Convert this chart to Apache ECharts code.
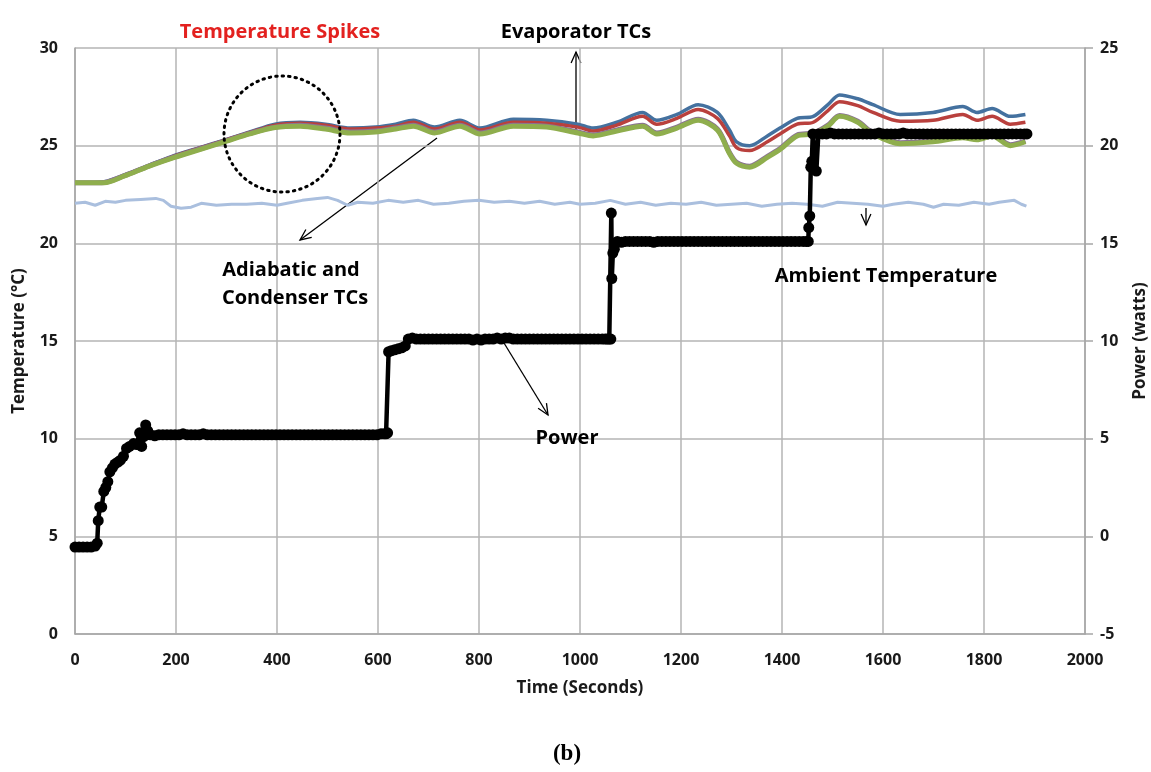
<!DOCTYPE html>
<html>
<head>
<meta charset="utf-8">
<script src="https://cdn.jsdelivr.net/npm/echarts@6/dist/echarts.min.js"></script>
<style>
html,body{margin:0;padding:0;background:#fff;overflow:hidden;}
#chart{width:1151px;height:772px;}
</style>
</head>
<body>
<div id="chart"></div>
<script>
// ---------- DATA ----------
var xTicks = [0,200,400,600,800,1000,1200,1400,1600,1800,2000];

// Evaporator TC (blue)
var evapBlueT = [0,28,58,98,147,197,247,297,346,396,446,496,545,595,635,670,712,762,802,868,934,996,1026,1073,1124,1152,1192,1234,1272,1296,1310,1336,1371,1396,1430,1462,1491,1514,1550,1580,1634,1699,1758,1786,1816,1852,1882];
var evapBlueV = [23.1,23.1,23.15,23.5,24.0,24.5,24.9,25.3,25.7,26.1,26.2,26.1,25.9,25.95,26.1,26.3,25.95,26.3,25.9,26.35,26.3,26.1,25.9,26.2,26.7,26.3,26.6,27.1,26.7,25.8,25.2,25.0,25.5,25.9,26.4,26.5,27.1,27.6,27.4,27.1,26.6,26.7,27.0,26.7,26.9,26.5,26.6];
// Evaporator TC (red)
var evapRedV = [23.1,23.1,23.13,23.48,23.98,24.48,24.88,25.28,25.68,26.05,26.15,26.05,25.85,25.9,26.0,26.2,25.85,26.2,25.8,26.2,26.15,25.95,25.75,26.05,26.5,26.1,26.4,26.85,26.4,25.5,24.9,24.75,25.2,25.6,26.1,26.2,26.8,27.25,27.05,26.7,26.25,26.3,26.6,26.3,26.5,26.1,26.2];
// Adiabatic / condenser TCs (purple and green)
var adiaPurpleV = [23.1,23.1,23.12,23.47,23.97,24.42,24.83,25.23,25.63,25.95,26.05,25.9,25.7,25.75,25.9,26.05,25.7,26.05,25.65,26.05,26.0,25.7,25.55,25.8,26.05,25.65,25.95,26.35,25.85,24.65,24.15,23.95,24.45,24.85,25.55,25.65,26.05,26.55,26.25,25.65,25.15,25.25,25.45,25.35,25.55,25.05,25.25];
var condGreenV = [23.1,23.1,23.1,23.45,23.95,24.4,24.8,25.2,25.6,25.93,26.0,25.85,25.65,25.7,25.85,26.0,25.65,26.0,25.6,26.0,25.95,25.65,25.5,25.75,26.0,25.6,25.9,26.3,25.8,24.6,24.1,23.9,24.4,24.8,25.5,25.6,26.0,26.5,26.2,25.6,25.1,25.2,25.4,25.3,25.5,25.0,25.2];

// Ambient temperature
var ambT = [0,20,40,60,80,100,130,160,175,190,210,230,250,280,310,340,370,400,420,450,480,500,520,540,560,590,620,650,680,710,740,770,800,830,860,890,920,950,980,1000,1030,1060,1090,1120,1150,1180,1210,1240,1270,1300,1330,1360,1390,1420,1450,1480,1510,1540,1570,1600,1620,1650,1680,1700,1720,1750,1780,1810,1830,1860,1874,1884];
var ambV = [22.05,22.1,21.95,22.15,22.1,22.2,22.25,22.3,22.2,21.9,21.8,21.85,22.05,21.95,22.0,22.0,22.05,21.95,22.05,22.2,22.3,22.35,22.2,21.95,22.1,22.05,22.2,22.1,22.2,22.0,22.05,22.15,22.2,22.1,22.15,22.05,22.15,22.0,22.1,22.0,22.05,22.2,22.0,22.1,21.95,22.05,22.0,22.1,21.95,22.0,22.05,21.9,22.0,22.05,22.0,21.9,22.1,22.05,22.0,21.9,22.0,22.1,22.0,21.85,22.0,21.95,22.1,22.0,22.1,22.2,22.0,21.9];

// Power (watts), [time s, watts] — start-up ramp and four plateaus
var powerRamp = [[0,-0.55],[8,-0.55],[16,-0.55],[24,-0.55],[32,-0.55],[40,-0.5],[44,-0.35],[46,0.8],[49,1.5],[53,1.5],[57,2.3],[61,2.5],[65,2.8],[69,3.3],[74,3.5],[79,3.7],[85,3.8],[90,3.9],[96,4.1],[102,4.5],[108,4.6],[116,4.75],[122,4.7],[128,5.3],[132,4.6],[136,5.1],[140,5.7],[144,5.4]];
var powerStep5 = [[149,5.2],[158,5.15],[166,5.2],[174,5.2],[182,5.2],[190,5.2],[198,5.2],[206,5.2],[214,5.25],[222,5.2],[230,5.2],[238,5.2],[246,5.2],[254,5.25],[262,5.2],[270,5.2],[278,5.2],[286,5.2],[294,5.2],[302,5.2],[310,5.2],[318,5.2],[326,5.2],[334,5.2],[342,5.2],[350,5.2],[358,5.2],[366,5.2],[374,5.2],[382,5.2],[390,5.2],[398,5.2],[406,5.2],[414,5.2],[422,5.2],[430,5.2],[438,5.2],[446,5.2],[454,5.2],[462,5.2],[470,5.2],[478,5.2],[486,5.2],[494,5.2],[502,5.2],[510,5.2],[518,5.2],[526,5.2],[534,5.2],[542,5.2],[550,5.2],[558,5.2],[566,5.2],[574,5.2],[582,5.2],[590,5.2],[598,5.2],[606,5.25],[612,5.25],[616,5.25],[619,5.3]];
var powerStep10 = [[621,9.45],[626,9.5],[633,9.55],[640,9.6],[647,9.65],[654,9.75],[660,10.1],[668,10.15],[676,10.1],[684,10.1],[692,10.1],[700,10.1],[708,10.1],[716,10.1],[724,10.1],[732,10.1],[740,10.1],[748,10.1],[756,10.1],[764,10.1],[772,10.1],[780,10.1],[788,10.05],[796,10.1],[804,10.05],[812,10.1],[820,10.1],[828,10.1],[836,10.15],[844,10.1],[852,10.15],[860,10.15],[868,10.1],[876,10.1],[884,10.1],[892,10.1],[900,10.1],[908,10.1],[916,10.1],[924,10.1],[932,10.1],[940,10.1],[948,10.1],[956,10.1],[964,10.1],[972,10.1],[980,10.1],[988,10.1],[996,10.1],[1004,10.1],[1012,10.1],[1020,10.1],[1028,10.1],[1036,10.1],[1044,10.1],[1050,10.1],[1054,10.1],[1058,10.1],[1061,10.1]];
var powerStep15 = [[1062,16.55],[1063,13.2],[1065,14.5],[1068,14.7],[1074,15.1],[1082,15.05],[1090,15.1],[1098,15.1],[1106,15.1],[1114,15.1],[1122,15.1],[1130,15.1],[1138,15.1],[1146,15.05],[1154,15.1],[1162,15.1],[1170,15.1],[1178,15.1],[1186,15.1],[1194,15.1],[1202,15.1],[1210,15.1],[1218,15.1],[1226,15.1],[1234,15.1],[1242,15.1],[1250,15.1],[1258,15.1],[1266,15.1],[1274,15.1],[1282,15.1],[1290,15.1],[1298,15.1],[1306,15.1],[1314,15.1],[1322,15.1],[1330,15.1],[1338,15.1],[1346,15.1],[1354,15.1],[1362,15.1],[1370,15.1],[1378,15.1],[1386,15.1],[1394,15.1],[1402,15.1],[1410,15.1],[1418,15.1],[1426,15.1],[1434,15.1],[1442,15.1],[1448,15.1],[1452,15.1]];
var powerStep20 = [[1453,15.8],[1455,16.4],[1457,18.9],[1459,19.2],[1461,20.6],[1468,18.7],[1472,20.6],[1480,20.6],[1488,20.6],[1496,20.65],[1504,20.6],[1512,20.6],[1520,20.6],[1528,20.6],[1536,20.6],[1544,20.6],[1552,20.6],[1560,20.6],[1568,20.6],[1576,20.6],[1584,20.6],[1592,20.65],[1600,20.6],[1608,20.6],[1616,20.6],[1624,20.6],[1632,20.6],[1640,20.65],[1648,20.6],[1656,20.6],[1664,20.6],[1672,20.6],[1680,20.6],[1688,20.6],[1696,20.6],[1704,20.6],[1712,20.6],[1720,20.6],[1728,20.6],[1736,20.6],[1744,20.6],[1752,20.6],[1760,20.6],[1768,20.6],[1776,20.6],[1784,20.6],[1792,20.6],[1800,20.6],[1808,20.6],[1816,20.6],[1824,20.6],[1832,20.6],[1840,20.6],[1848,20.6],[1856,20.6],[1864,20.6],[1872,20.6],[1880,20.6],[1885,20.6]];

function pairs(t, v){ var out=[]; for (var i=0;i<t.length;i++) out.push([t[i], v[i]]); return out; }
var powerData = powerRamp.concat(powerStep5, powerStep10, powerStep15, powerStep20);

// ---------- CHART ----------
var FONT = '"Open Sans"';
var chart = echarts.init(document.getElementById('chart'), null, {renderer:'canvas', width:1151, height:772});
var GRID_L = 75, GRID_R = 1085, GRID_T = 48, GRID_B = 634;

function arrow(x1,y1,x2,y2){
  var ang = Math.atan2(y2-y1, x2-x1), L = 12, a = 0.42;
  var p1 = [x2 - L*Math.cos(ang - a), y2 - L*Math.sin(ang - a)];
  var p2 = [x2 - L*Math.cos(ang + a), y2 - L*Math.sin(ang + a)];
  return {type:'group', silent:true, children:[
    {type:'line', shape:{x1:x1,y1:y1,x2:x2,y2:y2}, style:{stroke:'#000', lineWidth:1.3}},
    {type:'polyline', shape:{points:[p1,[x2,y2],p2]}, style:{stroke:'#000', lineWidth:1.3, fill:null}}
  ]};
}
function txt(x,y,s,opt){
  opt = opt || {};
  return {type:'text', x:x, y:y, silent:true, z:20, style:{text:s, fill:opt.color||'#000', font:(opt.font||('bold 20px '+FONT)), textAlign:opt.align||'center', textVerticalAlign:'middle'}};
}
var lbl = {fontFamily:'Open Sans', fontWeight:'bold', fontSize:16, color:'#1a1a1a'};

var option = {
  backgroundColor:'#fff',
  animation:false,
  grid:{left:GRID_L, width:GRID_R-GRID_L, top:GRID_T, height:GRID_B-GRID_T, containLabel:false, outerBoundsMode:'none'},
  xAxis:{
    type:'value', min:0, max:2000, interval:200,
    name:'Time (Seconds)', nameLocation:'middle', nameGap:46,
    nameTextStyle:{fontFamily:'Open Sans', fontWeight:'bold', fontSize:17, color:'#1a1a1a'},
    axisLine:{show:true, lineStyle:{color:'#a6a6a6', width:1.5}},
    axisTick:{show:false},
    axisLabel:Object.assign({margin:18, formatter:function(v){return String(v);}}, lbl),
    splitLine:{show:true, lineStyle:{color:'#b5b5b5', width:1.5}}
  },
  yAxis:[{
    type:'value', min:0, max:30, interval:5, position:'left',
    name:'Temperature (°C)', nameLocation:'middle', nameGap:47,
    nameTextStyle:{fontFamily:'Open Sans', fontWeight:'bold', fontSize:17, color:'#1a1a1a'},
    axisLine:{show:true, lineStyle:{color:'#a6a6a6', width:1.5}},
    axisTick:{show:false},
    axisLabel:Object.assign({margin:17}, lbl),
    splitLine:{show:true, lineStyle:{color:'#b5b5b5', width:1.5}}
  },{
    type:'value', min:-5, max:25, interval:5, position:'right',
    name:'Power (watts)', nameLocation:'middle', nameGap:47,
    nameTextStyle:{fontFamily:'Open Sans', fontWeight:'bold', fontSize:17, color:'#1a1a1a'},
    axisLine:{show:true, lineStyle:{color:'#a6a6a6', width:1.5}},
    axisTick:{show:true, inside:false, length:8, lineStyle:{color:'#a6a6a6', width:1.5}},
    axisLabel:Object.assign({margin:15}, lbl),
    splitLine:{show:false}
  }],
  series:[
    {name:'Ambient', type:'line', yAxisIndex:0, data:pairs(ambT, ambV), symbol:'none', smooth:false,
     lineStyle:{color:'#aabfde', width:3}, z:2},
    {name:'Evap 1', type:'line', yAxisIndex:0, data:pairs(evapBlueT, evapBlueV), symbol:'none', smooth:0.3,
     lineStyle:{color:'#44719f', width:3.5}, z:3},
    {name:'Evap 2', type:'line', yAxisIndex:0, data:pairs(evapBlueT, evapRedV), symbol:'none', smooth:0.3,
     lineStyle:{color:'#b9403d', width:3.5}, z:4},
    {name:'Adiabatic', type:'line', yAxisIndex:0, data:pairs(evapBlueT, adiaPurpleV), symbol:'none', smooth:0.3,
     lineStyle:{color:'#8a7194', width:5}, z:5},
    {name:'Condenser', type:'line', yAxisIndex:0, data:pairs(evapBlueT, condGreenV), symbol:'none', smooth:0.3,
     lineStyle:{color:'#8fae4d', width:5}, z:6},
    {name:'Power', type:'line', yAxisIndex:1, data:powerData, symbol:'circle', symbolSize:11, showAllSymbol:true,
     itemStyle:{color:'#000'}, lineStyle:{color:'#000', width:4.5}, z:7}
  ],
  graphic:[
    txt(280,32,'Temperature Spikes',{color:'#e3211f'}),
    txt(576,32,'Evaporator TCs'),
    txt(291,270,'Adiabatic and'),
    txt(295,298,'Condenser TCs'),
    txt(886,276,'Ambient Temperature'),
    txt(567,438,'Power'),
    txt(567,754,'(b)',{font:'bold 23px "Liberation Serif"'}),
    {type:'circle', silent:true, z:20, shape:{cx:282, cy:134, r:58}, style:{fill:null, stroke:'#000', lineWidth:3, lineDash:[1.5,5], lineCap:'round'}},
    arrow(576,130,576,52),
    arrow(437,138,300,240),
    arrow(866,208,866,225),
    arrow(504,343,548,415)
  ]
};
chart.setOption(option);
</script>
</body>
</html>
